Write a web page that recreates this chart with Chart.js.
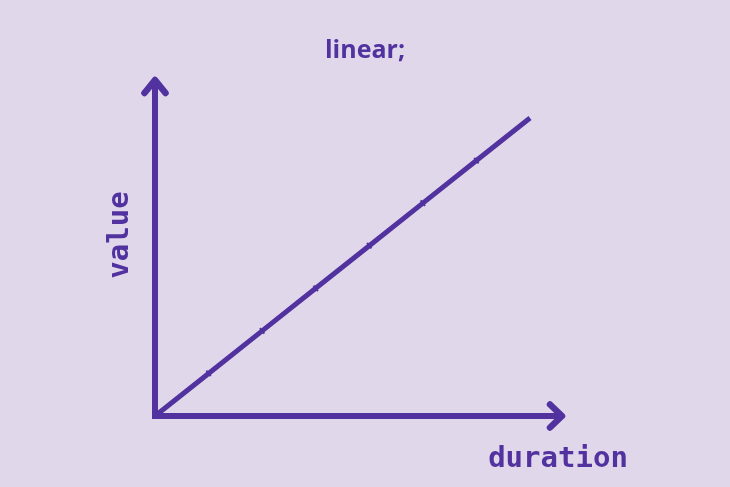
<!DOCTYPE html>
<html>
<head>
<meta charset="utf-8">
<script src="https://cdn.jsdelivr.net/npm/chart.js@4"></script>
<style>
html,body{margin:0;padding:0;background:#e0d7eb;}
#wrap{width:730px;height:487px;}
</style>
</head>
<body>
<div id="wrap"><canvas id="c" width="730" height="487"></canvas></div>
<script>
const chartTitle = 'linear;';
const xAxisLabel = 'duration';
const yAxisLabel = 'value';
const durations = [0, 1, 2, 3, 4, 5, 6, 7];
const values = [0, 1, 2, 3, 4, 5, 6, 7];

const PURPLE = '#51329f';
const BG = '#e0d7eb';

const decor = {
  id: 'decor',
  beforeDraw(chart) {
    const ctx = chart.ctx;
    ctx.save();
    ctx.fillStyle = BG;
    ctx.fillRect(0, 0, chart.width, chart.height);
    ctx.restore();
  },
  beforeDatasetsDraw(chart) {
    const ctx = chart.ctx;
    const xs = chart.scales.x, ys = chart.scales.y;
    const ox = xs.getPixelForValue(0), oy = ys.getPixelForValue(0);
    const xEnd = chart.chartArea.right + 32;
    const yEnd = chart.chartArea.top - 38;
    ctx.save();
    ctx.strokeStyle = PURPLE;
    ctx.lineWidth = 6;
    ctx.lineCap = 'butt';
    ctx.lineJoin = 'miter';
    ctx.beginPath();
    ctx.moveTo(ox, yEnd);
    ctx.lineTo(ox, oy);
    ctx.lineTo(xEnd, oy);
    ctx.stroke();
    ctx.lineWidth = 6.5;
    ctx.lineCap = 'round';
    ctx.lineJoin = 'round';
    ctx.beginPath();
    ctx.moveTo(ox - 10.5, yEnd + 13);
    ctx.lineTo(ox, yEnd);
    ctx.lineTo(ox + 10.5, yEnd + 13);
    ctx.stroke();
    ctx.beginPath();
    ctx.moveTo(xEnd - 12, oy - 11.5);
    ctx.lineTo(xEnd, oy);
    ctx.lineTo(xEnd - 12, oy + 11.5);
    ctx.stroke();
    ctx.fillStyle = PURPLE;
    ctx.textAlign = 'center';
    ctx.textBaseline = 'alphabetic';
    ctx.font = 'bold 25px "Open Sans"';
    ctx.fillText(chartTitle, 365, 58);
    ctx.font = 'bold 29px "DejaVu Sans Mono"';
    ctx.fillText(xAxisLabel, 558, 467);
    ctx.translate(128, 235);
    ctx.rotate(-Math.PI / 2);
    ctx.fillText(yAxisLabel, 0, 0);
    ctx.restore();
  }
};

new Chart(document.getElementById('c'), {
  type: 'line',
  data: {
    labels: durations,
    datasets: [{
      data: durations.map((d, i) => ({x: d, y: values[i]})),
      borderColor: PURPLE,
      backgroundColor: PURPLE,
      borderWidth: 5,
      borderCapStyle: 'butt',
      tension: 0,
      fill: false,
      clip: false,
      pointStyle: 'line',
      pointRotation: 51.5,
      pointRadius: durations.map((d, i) => (i === 0 || i === durations.length - 1) ? 0 : 3.5),
      pointBorderWidth: 2,
      pointBorderColor: PURPLE,
      pointHoverRadius: 0
    }]
  },
  options: {
    responsive: false,
    animation: false,
    events: [],
    layout: {padding: {left: 155, right: 200, top: 118, bottom: 71}},
    plugins: {legend: {display: false}, tooltip: {enabled: false}, title: {display: false}},
    scales: {
      x: {type: 'linear', min: 0, max: 7, display: false},
      y: {type: 'linear', min: 0, max: 7, display: false}
    }
  },
  plugins: [decor]
});
</script>
</body>
</html>
